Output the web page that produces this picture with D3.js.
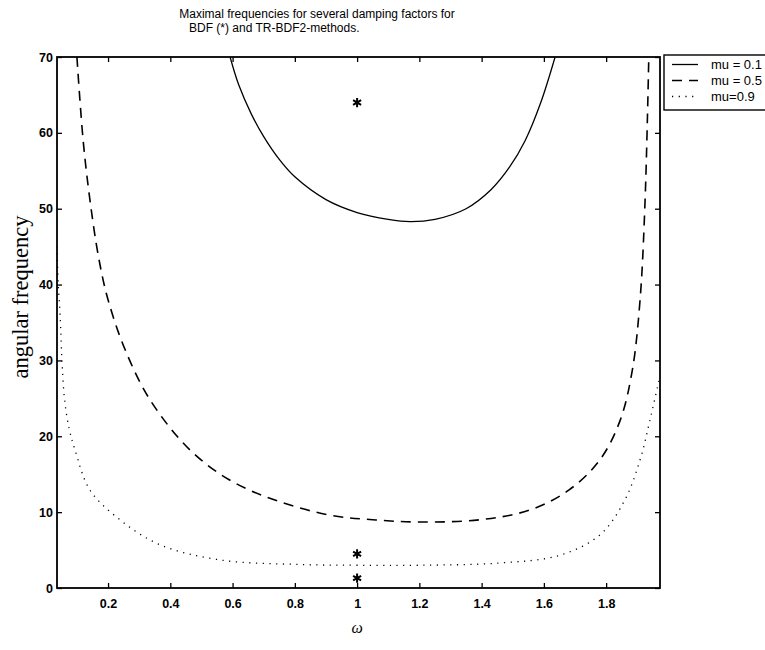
<!DOCTYPE html>
<html><head><meta charset="utf-8">
<script src="https://cdn.jsdelivr.net/npm/d3@7"></script>
<style>body{margin:0;background:#fff;} svg{display:block;}</style>
</head><body>
<svg id="c" width="765" height="650"></svg>
<script>
// ---- data ----
const titleLines = ["Maximal frequencies for several damping factors for", "BDF (*) and TR-BDF2-methods."];
const xTicks = [0.2, 0.4, 0.6, 0.8, 1.0, 1.2, 1.4, 1.6, 1.8];
const yTicks = [0, 10, 20, 30, 40, 50, 60, 70];
const seriesNames = ["mu = 0.1", "mu = 0.5", "mu=0.9"];
const solidX = [0.592, 0.62, 0.66, 0.70, 0.75, 0.80, 0.90, 1.00, 1.10, 1.17, 1.25, 1.35, 1.43, 1.49, 1.54, 1.59, 1.636];
const solidY = [70, 66.3, 62.5, 59.5, 56.5, 54.2, 51.2, 49.5, 48.6, 48.3, 48.6, 50.0, 52.5, 55.5, 59.0, 64.0, 70];
const dashX = [0.100, 0.12, 0.142, 0.17, 0.20, 0.255, 0.335, 0.463, 0.592, 0.736, 0.913, 1.05, 1.202, 1.395, 1.556, 1.68, 1.78, 1.845, 1.884, 1.909, 1.925, 1.937];
const dashY = [70, 59, 51.1, 43.5, 38.0, 31.4, 24.8, 18.2, 14.2, 11.6, 9.6, 9.0, 8.7, 9.0, 10.3, 12.9, 16.9, 22.1, 28.7, 38, 51, 70];
const dotX = [0.036, 0.040, 0.046, 0.052, 0.060, 0.075, 0.094, 0.142, 0.238, 0.367, 0.56, 0.817, 1.0, 1.2, 1.46, 1.65, 1.78, 1.86, 1.909, 1.94, 1.973];
const dotY = [45, 40, 36, 30, 25, 21, 18.2, 12.9, 9.0, 5.7, 3.7, 3.1, 3.0, 3.0, 3.3, 4.3, 7.0, 11.6, 16.9, 22, 28];
const starX = [1, 1, 1];
const starY = [64, 4.5, 1.3];

// ---- layout ----
const L = 57, R = 660, T = 57, B = 588;
const svg = d3.select("#c");
const x = d3.scaleLinear().domain([0.036, 1.973]).range([L, R]);
const y = d3.scaleLinear().domain([0, 70]).range([B, T]);
const font = "'Liberation Sans', Arial, Helvetica, sans-serif";

svg.append("defs").append("clipPath").attr("id", "clip")
  .append("rect").attr("x", L).attr("y", T).attr("width", R - L).attr("height", B - T);

// title
svg.append("text").attr("x", 317).attr("y", 18).attr("text-anchor", "middle")
  .attr("font-family", font).attr("font-size", 12).text(titleLines[0]);
svg.append("text").attr("x", 189).attr("y", 32).attr("text-anchor", "start")
  .attr("font-family", font).attr("font-size", 12).text(titleLines[1]);

// axes (ticks inside)
const tl = 5;
const gB = svg.append("g").attr("transform", `translate(0,${B})`)
  .call(d3.axisBottom(x).tickValues(xTicks).tickSizeInner(-tl).tickSizeOuter(0).tickPadding(11).tickFormat(d3.format("~g")));
const gT = svg.append("g").attr("transform", `translate(0,${T})`)
  .call(d3.axisTop(x).tickValues(xTicks).tickSizeInner(-tl).tickSizeOuter(0).tickFormat(""));
const gL = svg.append("g").attr("transform", `translate(${L},0)`)
  .call(d3.axisLeft(y).tickValues(yTicks).tickSizeInner(-tl).tickSizeOuter(0).tickPadding(4));
const gR = svg.append("g").attr("transform", `translate(${R},0)`)
  .call(d3.axisRight(y).tickValues(yTicks).tickSizeInner(-tl).tickSizeOuter(0).tickFormat(""));
[gB, gT, gL, gR].forEach(g => {
  g.select(".domain").remove();
  g.selectAll("line").attr("stroke", "#000").attr("stroke-width", 1.3);
  g.selectAll("text").attr("font-family", font).attr("font-size", 12.5).attr("font-weight", "bold").attr("fill", "#000");
});
svg.append("rect").attr("x", L).attr("y", T).attr("width", R - L).attr("height", B - T)
  .attr("fill", "none").attr("stroke", "#000").attr("stroke-width", 1.8);

// axis labels
svg.append("text").attr("transform", "translate(28,297) rotate(-90)").attr("text-anchor", "middle")
  .attr("font-family", "'Liberation Serif', 'Times New Roman', serif").attr("font-size", 22.5).text("angular frequency");
svg.append("text").attr("x", x(1)).attr("y", 633).attr("text-anchor", "middle")
  .attr("font-family", "'Liberation Serif', 'Times New Roman', serif").attr("font-style", "italic").attr("font-size", 16).text("ω");

// curves
const line = d3.line().x(d => x(d[0])).y(d => y(d[1])).curve(d3.curveCatmullRom.alpha(0.5));
const plot = svg.append("g").attr("clip-path", "url(#clip)");
const styles = [
  {xs: solidX, ys: solidY, dash: null, w: 1.3},
  {xs: dashX, ys: dashY, dash: "10,7", w: 1.6},
  {xs: dotX, ys: dotY, dash: "1.2,5.5", w: 1.3}
];
styles.forEach(s => {
  plot.append("path").datum(d3.zip(s.xs, s.ys)).attr("d", line)
    .attr("fill", "none").attr("stroke", "#000").attr("stroke-width", s.w)
    .attr("stroke-dasharray", s.dash);
});

// stars
const star = d3.symbol().type(d3.symbolAsterisk).size(60);
plot.selectAll(".star").data(d3.zip(starX, starY)).enter().append("path")
  .attr("d", star).attr("transform", d => `translate(${x(d[0])},${y(d[1])})`)
  .attr("stroke", "#000").attr("stroke-width", 2).attr("fill", "none");

// legend
const lg = svg.append("g");
lg.append("rect").attr("x", 664).attr("y", 55).attr("width", 120).attr("height", 55)
  .attr("fill", "#fff").attr("stroke", "#000").attr("stroke-width", 1.4);
seriesNames.forEach((n, i) => {
  const yy = 64.5 + i * 16;
  lg.append("line").attr("x1", 672).attr("x2", 698).attr("y1", yy).attr("y2", yy)
    .attr("stroke", "#000").attr("stroke-width", styles[i].w).attr("stroke-dasharray", styles[i].dash);
  lg.append("text").attr("x", 711).attr("y", yy + 4.5).attr("font-family", font).attr("font-size", 13).text(n);
});
</script>
</body></html>
